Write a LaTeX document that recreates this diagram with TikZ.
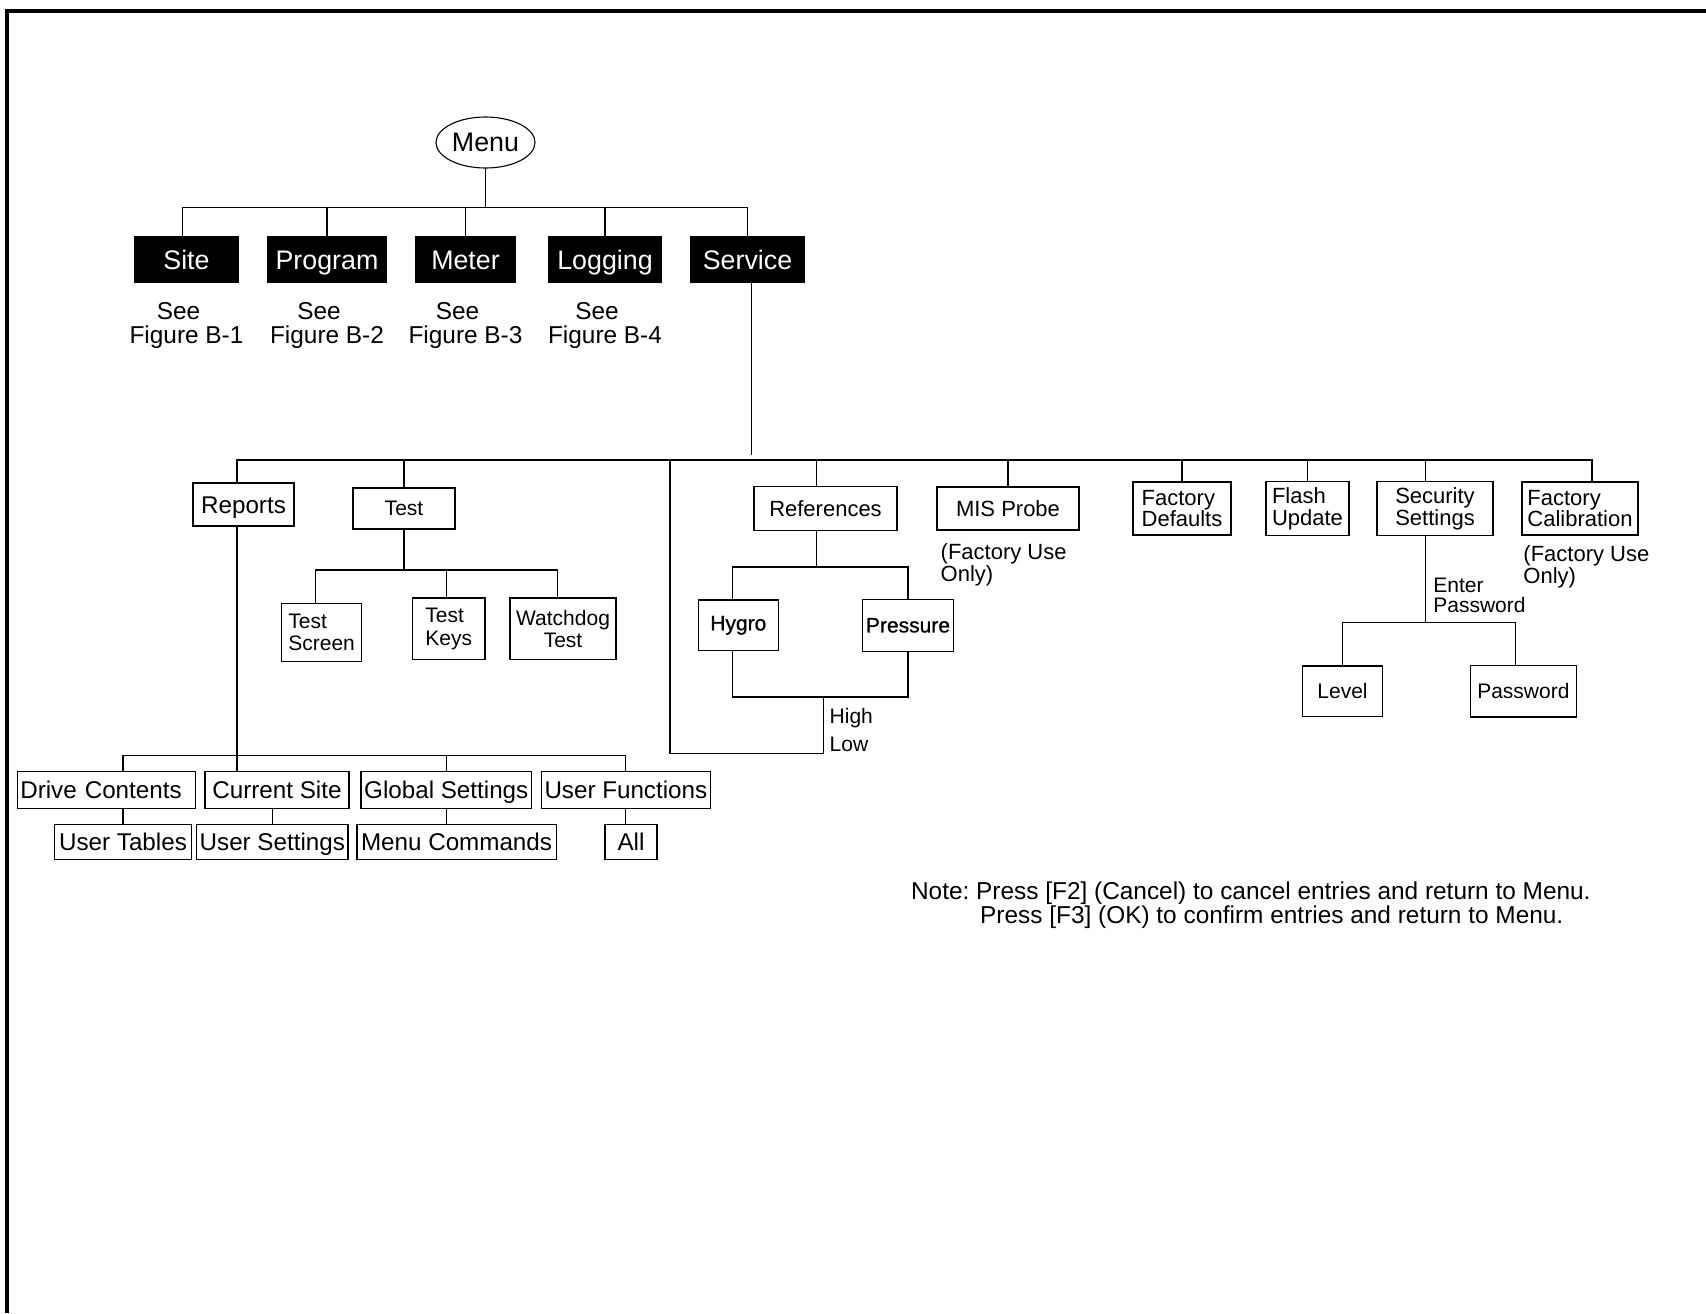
\documentclass[tikz,border=0pt]{standalone}
\usepackage{fontspec}
\setmainfont{Liberation Sans}
\newfontfamily\heavysans[FakeBold=0.8]{Liberation Sans}
\usetikzlibrary{positioning, shapes.geometric, calc}
\frenchspacing

\begin{document}
\begin{tikzpicture}[
        topbox/.style={
            rectangle,
            fill=black,
            text=white,
            inner sep=2pt,
            outer sep=0pt,
            minimum height=23.5pt,
            text height=11.4pt,
            text depth=1.8pt,
            font=\fontsize{13.4}{13.4}\selectfont
        },
        oval/.style={
            ellipse,
            draw,
            line width=0.55pt,
            inner sep=0pt,
            outer sep=0pt,
            minimum width=49.5pt,
            minimum height=25.5pt,
            font=\fontsize{13.4}{13.4}\selectfont
        },
        itembox/.style={
            rectangle,
            draw,
            line width=0.6pt,
            inner sep=2pt,
            outer sep=0pt,
            align=left,
            font=\fontsize{11}{10.8}\selectfont
        },
        smallbox/.style={
            itembox,
            font=\fontsize{10.5}{11.3}\selectfont
        },
        heavybox/.style={
            itembox,
            font=\heavysans\fontsize{10.5}{11.3}\selectfont
        },
        rowbox/.style={
            itembox,
            inner xsep=1.5pt,
            minimum height=18.5pt,
            text height=10pt,
            text depth=1.4pt,
            font=\fontsize{12.1}{12}\selectfont
        },
        seetext/.style={
            inner sep=0pt,
            align=center,
            font=\fontsize{12.2}{12}\selectfont
        },
        notetext/.style={
            inner sep=0pt,
            align=left,
            font=\fontsize{11}{11}\selectfont
        },
        link/.style={line width=0.55pt}
        ]
        
        \useasboundingbox (0,0) rectangle (853pt,-656.5pt);
        
        % Frame
        \draw[line width=2pt] (3.5pt,-656.5pt) -- (3.5pt,-5.5pt) -- (853pt,-5.5pt);
        
        % Main menu
        \node[oval] (menu) at (242.75pt,-71.25pt) {Menu};
        \node[topbox, minimum width=52.5pt] (site) at (93.25pt,-129.75pt) {Site};
        \node[topbox, minimum width=60pt, right=14pt of site] (program) {Program};
        \node[topbox, minimum width=50.5pt, right=14pt of program] (meter) {Meter};
        \node[topbox, minimum width=57pt, right=16pt of meter] (logging) {Logging};
        \node[topbox, minimum width=57.5pt, right=14pt of logging] (service) {Service};
        
        % See figure notes
        \node[seetext, below=9.5pt of site] (seesite) {See\hspace*{8pt}\\Figure B-1};
        \node[seetext, below=9.5pt of program] (seeprogram) {See\hspace*{8pt}\\Figure B-2};
        \node[seetext, below=9.5pt of meter] (seemeter) {See\hspace*{8pt}\\Figure B-3};
        \node[seetext, below=9.5pt of logging] (seelogging) {See\hspace*{8pt}\\Figure B-4};
        
        % Service items
        \node[rowbox, minimum width=50.5pt, minimum height=21.5pt] (reports) at (121.75pt,-252.25pt) {Reports};
        \node[smallbox, minimum width=51pt, minimum height=20.5pt, right=29.5pt of reports, yshift=-2pt] (test) {Test};
        \node[itembox, minimum width=71.5pt, minimum height=22pt, right=149.5pt of test] (references) {References};
        \node[itembox, minimum width=71pt, minimum height=21.5pt, right=20pt of references] (misprobe) {MIS Probe};
        \node[itembox, minimum width=49pt, minimum height=26.5pt, right=27pt of misprobe] (facdefaults) {Factory\\Defaults};
        \node[itembox, minimum width=41.5pt, minimum height=27pt, right=17.5pt of facdefaults] (flashupdate) {Flash\\Update};
        \node[itembox, minimum width=58pt, minimum height=27pt, right=14pt of flashupdate] (security) {Security\\Settings};
        \node[itembox, minimum width=58pt, minimum height=26.5pt, right=14.5pt of security] (faccal) {Factory\\Calibration};
        
        \node[notetext, below right=6.5pt and 1.65pt of misprobe.south west] (misnote) {(Factory Use\\Only)};
        \node[notetext, below right=5pt and 0.5pt of faccal.south west] (calnote) {(Factory Use\\Only)};
        
        % Test items
        \node[smallbox, minimum width=36.25pt, minimum height=30.85pt, below=34.5pt of test, xshift=22.4pt] (testkeys) {Test\\Keys};
        \node[smallbox, minimum width=40.2pt, minimum height=29.2pt, left=25.35pt of testkeys, yshift=-1.75pt] (testscreen) {Test\\Screen};
        \node[smallbox, minimum width=53pt, minimum height=30.85pt, align=center, right=12.5pt of testkeys] (watchdog) {Watchdog\\Test};
        
        % References items
        \node[heavybox, minimum width=40pt, minimum height=25.35pt, below=34.75pt of references, xshift=-43.6pt] (hygro) {Hygro};
        \node[heavybox, inner xsep=1pt, minimum width=45.3pt, minimum height=25.85pt, right=42.2pt of hygro] (pressure) {Pressure};
        
        % Security items
        \node[smallbox, minimum width=40pt, minimum height=25.35pt, below=65.25pt of security, xshift=-46.25pt] (level) {Level};
        \node[smallbox, minimum width=53.15pt, minimum height=25.65pt, right=43.85pt of level] (password) {Password};
        
        % Reports items
        \node[rowbox, minimum width=72pt, below=122.85pt of reports, xshift=16.75pt] (cursite) {Current Site};
        \node[rowbox, text width=86.2pt, left=4.65pt of cursite] (drive) {Drive Contents};
        \node[rowbox, minimum width=85.25pt, right=6pt of cursite] (global) {Global Settings};
        \node[rowbox, minimum width=84.25pt, right=5pt of global] (userfn) {User Functions};
        \node[rowbox, minimum width=68.7pt, minimum height=17.5pt, below=8pt of drive, xshift=8.25pt] (usertables) {User Tables};
        \node[rowbox, minimum width=75.15pt, minimum height=17.5pt, right=2.5pt of usertables] (usersettings) {User Settings};
        \node[rowbox, minimum width=99.6pt, minimum height=17.5pt, right=4.5pt of usersettings] (menucmds) {Menu Commands};
        \node[rowbox, minimum width=26pt, minimum height=17.5pt, right=24.4pt of menucmds] (all) {All};
        
        % Menu links
        \coordinate[below=19.65pt of menu.south] (menubus);
        \draw[link] (menu.south) -- (menubus);
        \draw[link] ([xshift=-2pt]site.north) |- (menubus) -| (service.north);
        \draw[link] (program.north) -- (program.north |- menubus);
        \draw[link] (meter.north) -- (meter.north |- menubus);
        \draw[link] (logging.north) -- (logging.north |- menubus);
        
        % Service links
        \coordinate[below=88.5pt of service.south, xshift=2pt] (svcbus);
        \coordinate[above=2.5pt of svcbus] (svcend);
        \coordinate[left=40.75pt of svcbus] (looptop);
        \draw[link] ([xshift=2pt]service.south) -- (svcend);
        \draw[link] ([xshift=-3.25pt]reports.north) |- (svcbus) -| ([xshift=6pt]faccal.north);
        \draw[link] (test.north) -- (test.north |- svcbus);
        \draw[link] ([xshift=-4.4pt]references.north) -- ([xshift=-4.4pt]references.north |- svcbus);
        \draw[link] (misprobe.north) -- (misprobe.north |- svcbus);
        \draw[link] (facdefaults.north) -- (facdefaults.north |- svcbus);
        \draw[link] (flashupdate.north) -- (flashupdate.north |- svcbus);
        \draw[link] ([xshift=-4.6pt]security.north) -- ([xshift=-4.6pt]security.north |- svcbus);
        
        % Test links
        \coordinate[below=20.5pt of test.south] (testbus);
        \draw[link] (test.south) -- (testbus);
        \draw[link] ([xshift=-3pt]testscreen.north) |- (testbus) -| ([xshift=-2.8pt]watchdog.north);
        \draw[link] ([xshift=-1pt]testkeys.north) -- ([xshift=-1pt]testkeys.north |- testbus);
        
        % References links and return loop
        \coordinate[below=18.25pt of references.south, xshift=-4.4pt] (refbus);
        \draw[link] ([xshift=-4.4pt]references.south) -- (refbus);
        \draw[link] ([xshift=-3pt]hygro.north) |- (refbus) -| (pressure.north);
        \coordinate (hpjoin) at ($(hygro.south)!0.5!(pressure.south)+(0,-23pt)$);
        \coordinate[below=28.3pt of hpjoin] (hpend);
        \draw[link] ([xshift=-3pt]hygro.south) |- (hpjoin) -| (pressure.south);
        \draw[link] (hpjoin) -- node[pos=0.58, right=3pt, notetext, font=\fontsize{10.5}{14.2}\selectfont] (highlow) {High\\Low} (hpend) -| (looptop);
        
        % Security links
        \coordinate[below=43.6pt of security.south, xshift=-4.6pt] (secbus);
        \draw[link] ([xshift=-4.6pt]security.south) -- node[pos=0.69, right=3.5pt, notetext, font=\fontsize{10.5}{10}\selectfont] (enterpw) {Enter\\Password} (secbus);
        \draw[link] (level.north) |- (secbus) -| ([xshift=-3.9pt]password.north);
        
        % Reports links
        \coordinate[above=8pt of cursite.north] (rptbus);
        \draw[link] ([xshift=-3.25pt]reports.south) -- ([xshift=-3.25pt]reports.south |- cursite.north);
        \draw[link] (usertables.north |- drive.north) |- (rptbus) -| (userfn.north);
        \draw[link] (global.north) -- (global.north |- rptbus);
        \draw[link] (usertables.north) -- (usertables.north |- drive.south);
        \draw[link] (usersettings.north) -- (usersettings.north |- cursite.south);
        \draw[link] (global.south) -- (global.south |- menucmds.north);
        \draw[link] (userfn.south) -- (userfn.south |- all.north);
        
        % Note
        \node[notetext, font=\fontsize{12.2}{12}\selectfont, anchor=north west] (note) at (455.35pt,-440.5pt) {Note: Press [F2] (Cancel) to cancel entries and return to Menu.\\\phantom{Note: }\hspace*{2pt}Press [F3] (OK) to confirm entries and return to Menu.};
        
    \end{tikzpicture}
\end{document}
